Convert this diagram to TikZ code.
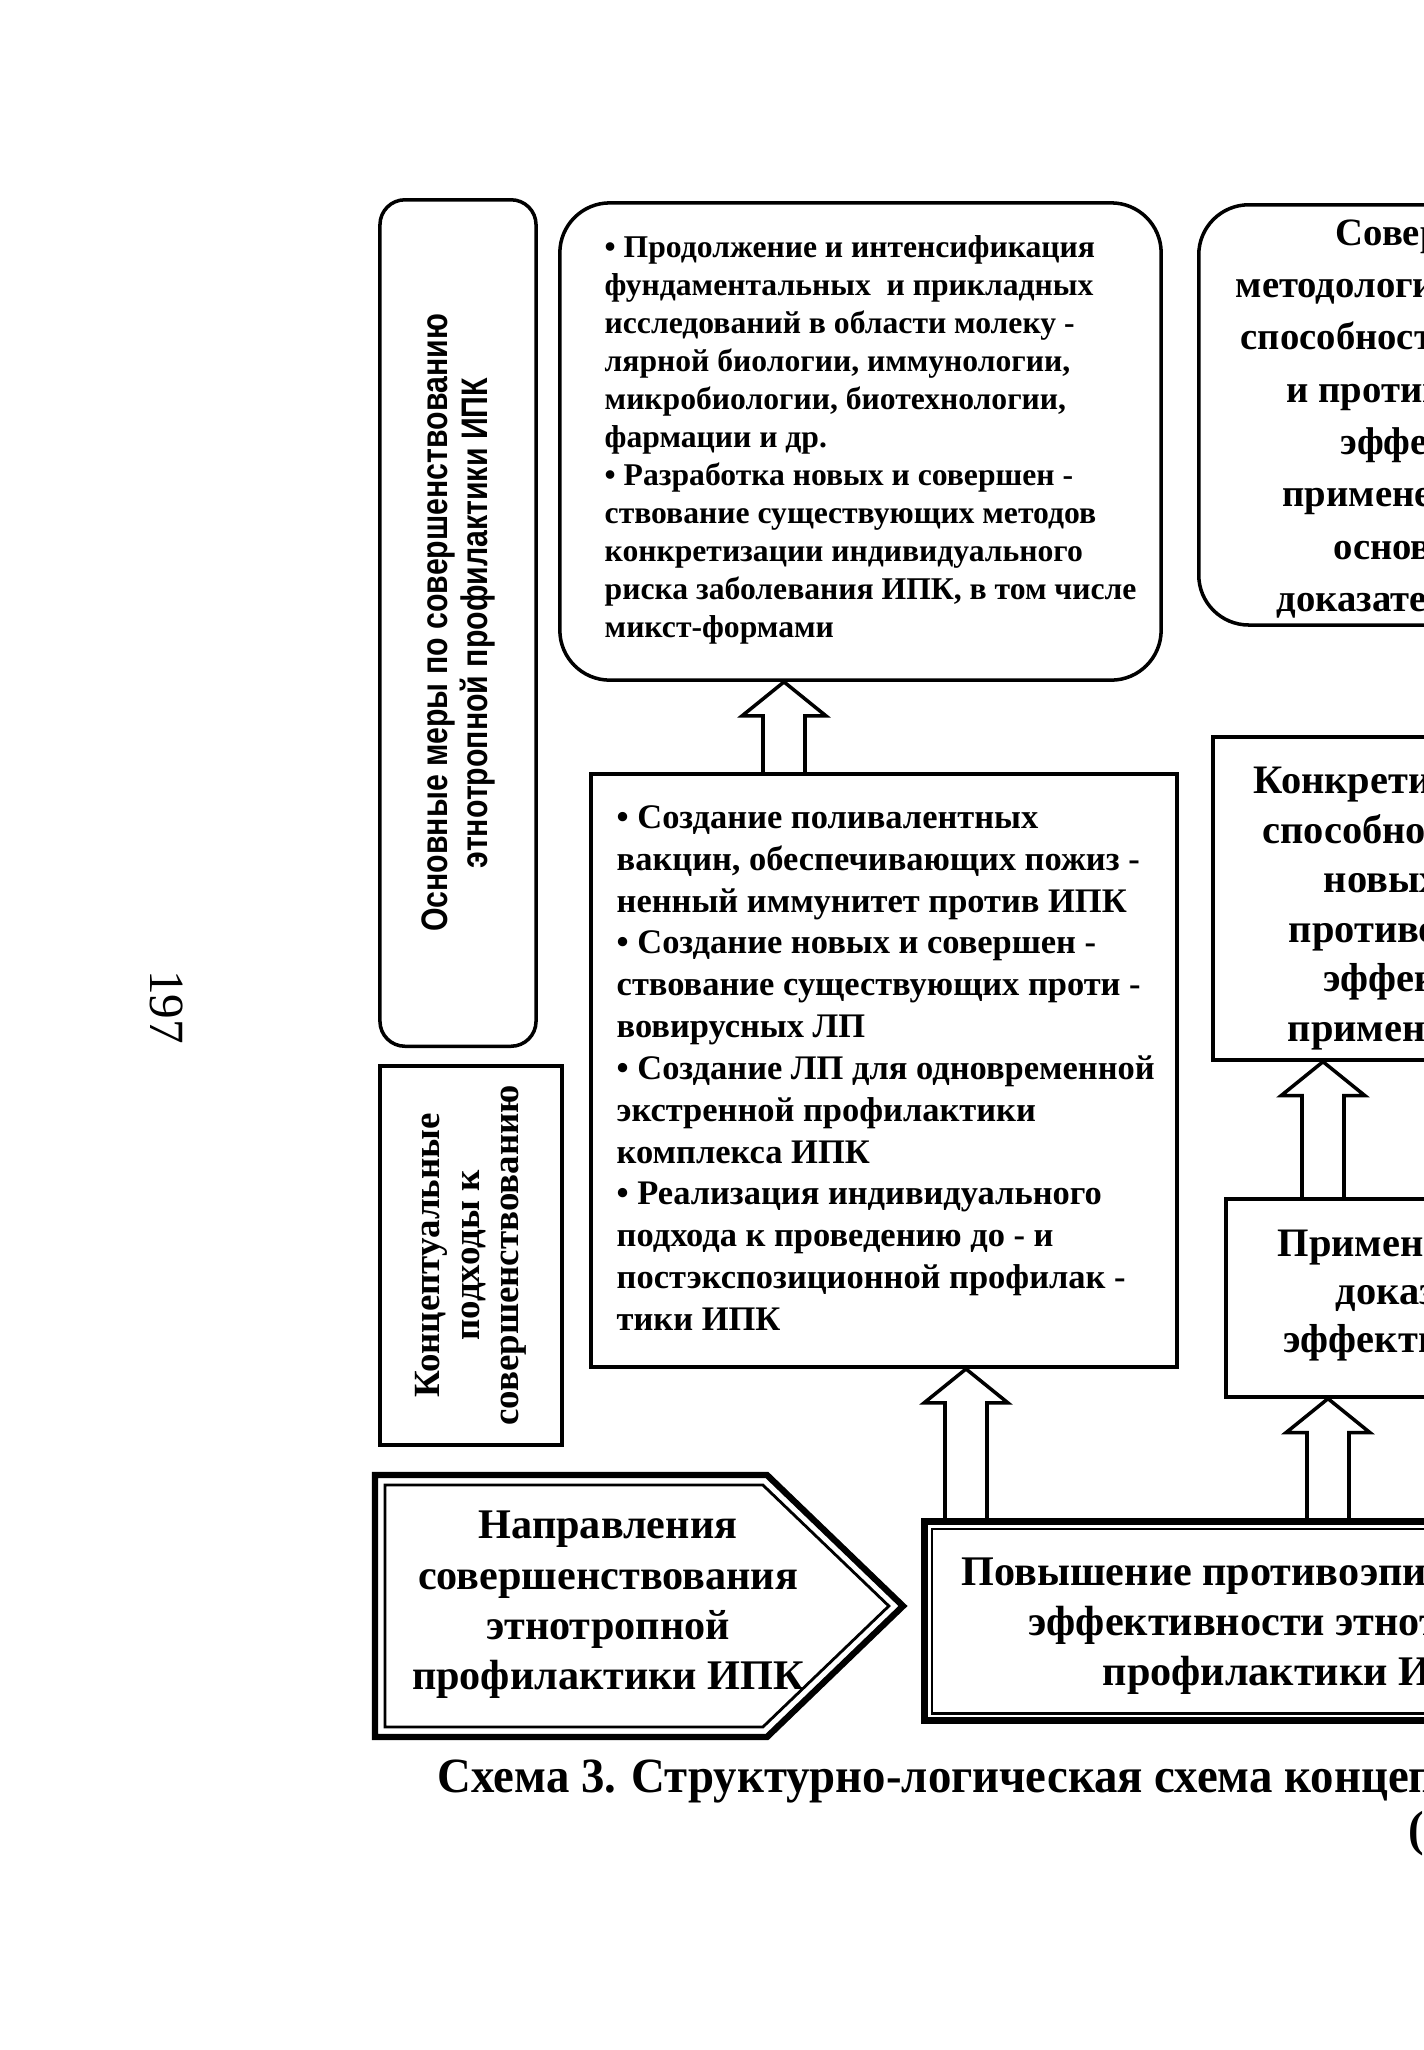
\documentclass[tikz,border=0pt]{standalone}
\usepackage{fontspec}
\setmainfont{Liberation Serif}
\newfontfamily\narrowsans[FakeStretch=0.82]{Liberation Sans}
\newfontfamily\condserif[FakeStretch=0.95]{Liberation Serif}
\usetikzlibrary{calc}
\tikzset{
  box/.style={draw,line width=1pt,inner sep=0pt},
  roundbox/.style={box,rounded corners=0.5cm},
  dblbox/.style={draw,line width=2pt,inner sep=0pt},
  txt/.style={inner sep=0pt,align=left,font=\bfseries\fontsize{9.8}{11.9}\selectfont},
  frag/.style={anchor=base west,inner sep=0pt,font=\bfseries\fontsize{11.5}{14}\selectfont},
  hollow/.style={draw,line width=1pt,line join=miter}
}
% hollow arrow: x coordinate, lower node, upper node
\newcommand{\hollowup}[3]{%
  \draw[hollow] ($(#1 |- #2.north)+(-21,0)$) -- ($(#1 |- #3.south)+(-21,34)$)
    -- ++(-21,0) -- (#1 |- #3.south) -- ++(42,34) -- ++(-21,0)
    -- ($(#1 |- #2.north)+(21,0)$);}

\begin{document}
\begin{tikzpicture}[x=0.01cm,y=-0.01cm]
  \useasboundingbox (0,0) rectangle (1424,2050);
  \clip (0,0) rectangle (1424,2050);

  % left column
  \node[roundbox,rounded corners=0.25cm,rotate=90,minimum width=8.46cm,minimum height=1.56cm,
    align=center,font=\narrowsans\bfseries\fontsize{10.5}{11.4}\selectfont] (mery) at (458,623)
    {Основные меры по совершенствованию\\этнотропной профилактики ИПК};
  \node[box,line width=1.3pt,rotate=90,minimum width=3.79cm,minimum height=1.82cm,
    align=center,font=\bfseries\fontsize{10.5}{11.2}\selectfont] (podkhody) at (471,1255.5)
    {Концептуальные\\подходы к\\совершенствованию};

  % boxes
  \node[roundbox,minimum width=6.01cm,minimum height=4.77cm] (issled) at (860.5,441.5) {};
  \node[txt,anchor=west,font=\bfseries\fontsize{9}{10.8}\selectfont] (issledtxt) at (604,440)
    {• Продолжение и интенсификация\\
     фундаментальных\ \ и прикладных\\
     исследований в области молеку -\\
     лярной биологии, иммунологии,\\
     микробиологии, биотехнологии,\\
     фармации и др.\\
     • Разработка новых и совершен -\\
     ствование существующих методов\\
     конкретизации индивидуального\\
     риска заболевания ИПК, в том числе\\
     микст-формами};
  \node[roundbox,minimum width=6cm,minimum height=4.2cm,anchor=north west] (sovmet) at (1197,203) {};

  \node[box,minimum width=5.86cm,minimum height=5.93cm] (sozd) at (884,1070.5) {};
  \node[txt,anchor=west] (sozdtxt) at (616,1068)
    {• Создание поливалентных\\
     вакцин, обеспечивающих пожиз -\\
     ненный иммунитет против ИПК\\
     • Создание новых и совершен -\\
     ствование существующих проти -\\
     вовирусных ЛП\\
     • Создание ЛП для одновременной\\
     экстренной профилактики\\
     комплекса ИПК\\
     • Реализация индивидуального\\
     подхода к проведению до - и\\
     постэкспозиционной профилак -\\
     тики ИПК};

  \node[box,minimum width=6cm,minimum height=3.23cm,anchor=north west] (konkr) at (1211,735) {};
  \node[box,minimum width=6cm,minimum height=1.98cm,anchor=north west] (primen) at (1224,1197) {};
  \node[dblbox,minimum width=9cm,minimum height=1.99cm,anchor=north west] (povysh) at (921,1518) {};
  \draw[line width=0.8pt] ($(povysh.north west)+(11,11)$) rectangle ($(povysh.south east)+(-11,-11)$);

  % text cut by the page edge
  \foreach \t/\x [count=\i] in {Совершенствование/1335, методологии оценки/1235,
      способности ЛП/1240, и противоэпидемической/1286, эффективности/1340,
      применения/1282, основе/1333, доказательной медицины/1276}
    \node[frag,font=\bfseries\fontsize{11}{13}\selectfont] (sovmet\i) at (\x,{193+52.3*\i}) {\t};
  \foreach \t/\x [count=\i] in {Конкретизация/1253, способности/1262, новых ЛП/1323,
      противовирусной/1288, эффективности/1323, применения/1287}
    \node[frag] (konkr\i) at (\x,{744+49.5*\i}) {\t};
  \foreach \t/\x [count=\i] in {Применение/1277, доказательной/1335, эффективности/1283}
    \node[frag] (primen\i) at (\x,{1208+48*\i}) {\t};
  \foreach \t/\x [count=\i] in {Повышение противоэпидемической/961,
      эффективности этнотропной/1028, профилактики ИПК/1102}
    \node[frag,font=\bfseries\fontsize{12}{15}\selectfont] (povysh\i) at (\x,{1535+50*\i}) {\t};

  % pentagon with double border
  \foreach \d/\w in {0/1.8pt,10/0.8pt}
    \draw[line width=\w] ({375+\d},{1475+\d}) -- ({767-0.414*\d},{1475+\d})
      -- ({903-1.414*\d},1606) -- ({767-0.414*\d},{1737-\d}) -- ({375+\d},{1737-\d}) -- cycle;
  \node[align=center,inner sep=0pt,font=\bfseries\fontsize{12}{14.3}\selectfont] (napr) at (608,1605)
    {Направления\\совершенствования\\этнотропной\\профилактики ИПК};

  % arrows
  \coordinate (a1) at (784,0);
  \coordinate (a2) at (1323,0);
  \coordinate (a3) at (966,0);
  \coordinate (a4) at (1328,0);
  \hollowup{a1}{sozd}{issled}
  \hollowup{a2}{primen}{konkr}
  \hollowup{a3}{povysh}{sozd}
  \hollowup{a4}{povysh}{primen}

  % caption and page number
  \node[anchor=base west,inner sep=0pt,font=\condserif\bfseries\fontsize{14}{16}\selectfont] (caption) at (437,1792)
    {Схема 3. Структурно-логическая схема концептуальных подходов};
  \node[anchor=base west,inner sep=0pt,font=\condserif\bfseries\fontsize{14}{16}\selectfont] (caption2) at (1408,1845)
    {(окончание)};
  \node[rotate=-90,inner sep=0pt,font=\fontsize{14}{16}\selectfont] (pagenum) at (167,1007) {197};
\end{tikzpicture}
\end{document}
